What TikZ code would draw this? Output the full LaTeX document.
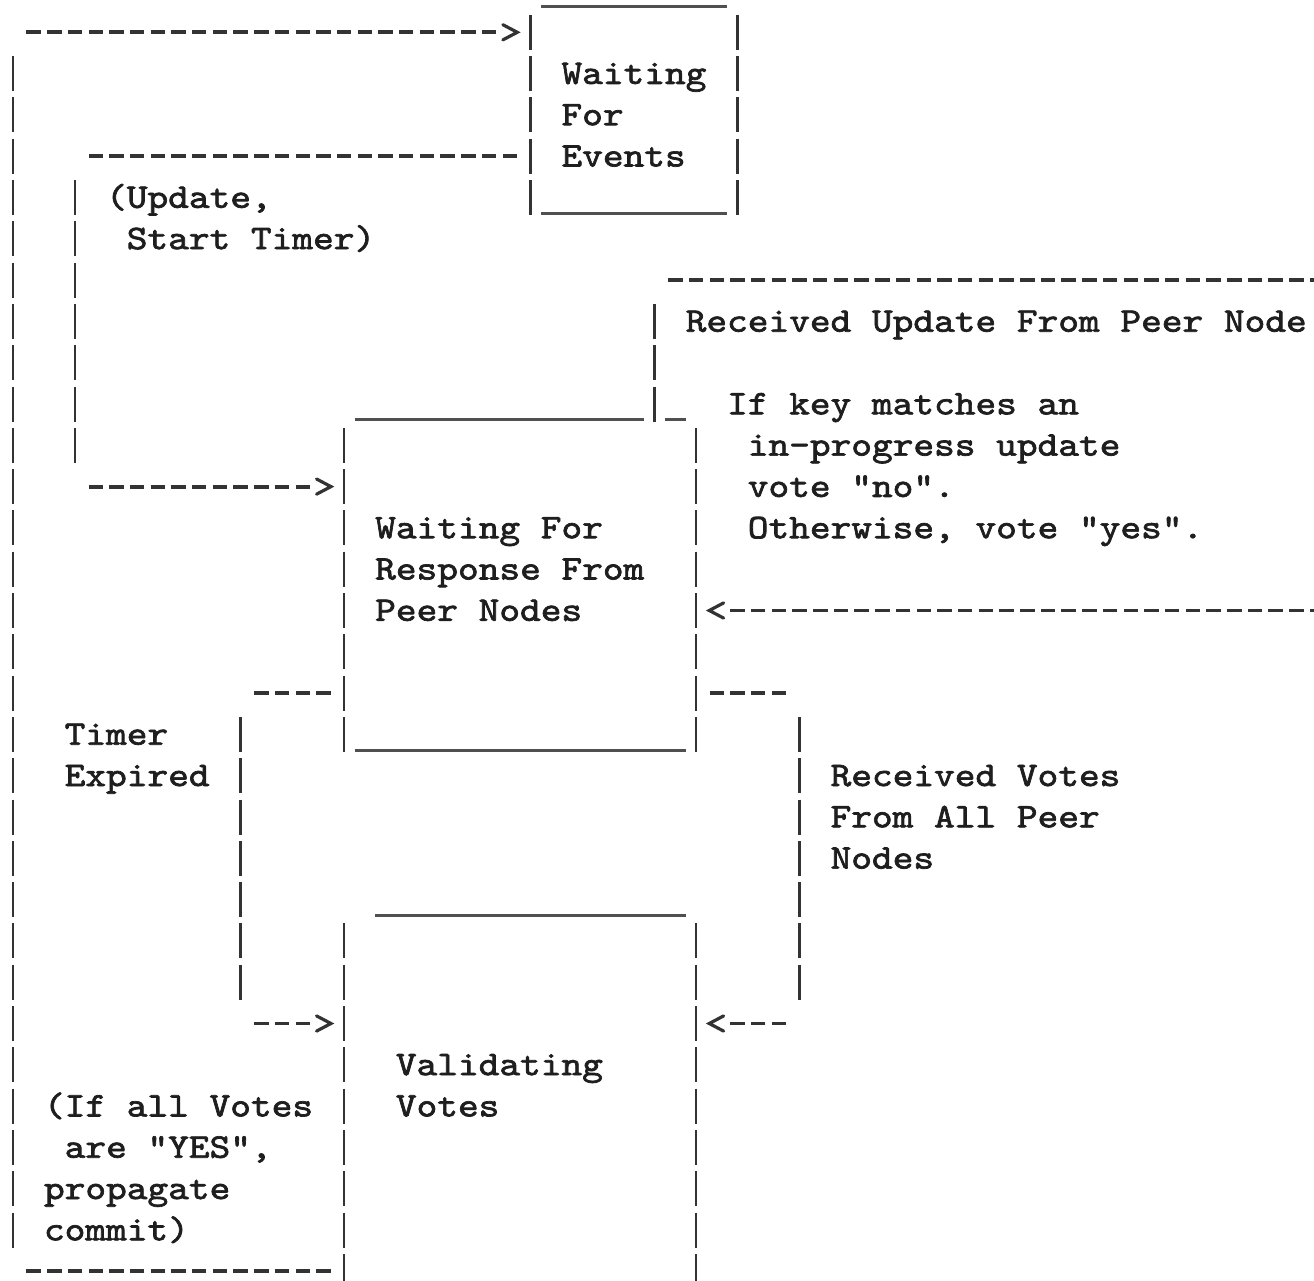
\documentclass[tikz,border=0pt]{standalone}
\usepackage{fontspec}
\setmonofont{lmmono10-regular.otf}[FakeStretch=1.143, FakeBold=2]
\usetikzlibrary{fit}
\definecolor{ink}{HTML}{1E1E1E}
\definecolor{lnk}{HTML}{333333}
\definecolor{ulk}{HTML}{505050}
\pgfdeclarearrow{
  name=asciihead,
  setup code={
    \pgfarrowssettipend{0pt}
    \pgfarrowssetlineend{-9.3pt}
    \pgfarrowssetbackend{-8.5pt}
    \pgfarrowssetvisualbackend{-8.5pt}
    \pgfarrowshullpoint{0pt}{0pt}
    \pgfarrowshullpoint{-8.5pt}{4pt}
    \pgfarrowshullpoint{-8.5pt}{-4pt}
  },
  drawing code={
    \pgfsetdash{}{0pt}
    \pgfsetlinewidth{1.6pt}
    \pgfsetroundcap
    \pgfsetmiterjoin
    \pgfpathmoveto{\pgfqpoint{-7.8pt}{3.8pt}}
    \pgfpathlineto{\pgfqpoint{-0.6pt}{0pt}}
    \pgfpathlineto{\pgfqpoint{-7.8pt}{-3.8pt}}
    \pgfusepathqstroke
  }
}
\tikzset{
  txt/.style={anchor=base west, inner sep=0pt, outer sep=0pt, text=ink,
    font=\ttfamily\fontsize{17.25pt}{20.65pt}\selectfont},
  boxarea/.style={inner sep=0pt, outer sep=0pt, draw=none},
  barln/.style={draw=lnk, line width=1.3pt, dash pattern=on 17.5pt off 3.15pt},
  dashln/.style={draw=lnk, line width=1.9pt, dash pattern=on 7.245pt off 3.105pt},
  ulln/.style={draw=ulk, line width=1.5pt},
  headto/.style={-asciihead, shorten >=6.0pt},
  fromside/.style={shorten <=6.73pt}
}
\newcommand\asclbl[4]{\node[txt] (#1) at (#2,#3+0.25) {#4};}
\begin{document}
\begin{tikzpicture}[x=10.35pt,y=-20.65pt]
\useasboundingbox (-0.1256,0.218) rectangle (63.353,31.235);
\clip (-0.1256,0.218) rectangle (63.353,31.235);

% ---------- state boxes (areas) ----------
\coordinate (e1a) at (25.5,0.387);  \coordinate (e1b) at (35.5,5.4237);
\coordinate (e2a) at (16.5,10.387); \coordinate (e2b) at (33.5,18.4237);
\coordinate (e3a) at (16.5,22.387); \coordinate (e3b) at (33.5,31.5);
\node[boxarea, fit=(e1a)(e1b)] (e1) {};
\node[boxarea, fit=(e2a)(e2b)] (e2) {};
\node[boxarea, fit=(e3a)(e3b)] (e3) {};

% box 1 outline
\draw[ulln] (26,0.387) -- (35,0.387);
\draw[barln] (25.5,0.5763) -- (25.5,5.4237);
\draw[barln] (35.5,0.5763) -- (35.5,5.4237);
\draw[ulln] (26,5.387) -- (35,5.387);
% box 2 outline
\draw[ulln] (17,10.387) -- (31,10.387);
\draw[ulln] (32,10.387) -- (33,10.387);
\draw[barln] (16.5,10.5763) -- (16.5,18.4237);
\draw[barln] (33.5,10.5763) -- (33.5,18.4237);
\draw[ulln] (17,18.387) -- (33,18.387);
% box 3 outline
\draw[ulln] (18,22.387) -- (33,22.387);
\draw[barln] (16.5,22.5763) -- (16.5,31.4237);
\draw[barln] (33.5,22.5763) -- (33.5,31.4237);

% ---------- texts ----------
\asclbl{t1a}{27}{2}{Waiting}
\asclbl{t1b}{27}{3}{For}
\asclbl{t1c}{27}{4}{Events}
\asclbl{l2a}{5}{5}{(Update,}
\asclbl{l2b}{6}{6}{Start Timer)}
\asclbl{l3a}{33}{8}{Received Update From Peer Node}
\asclbl{l3b}{35}{10}{If key matches an}
\asclbl{l3c}{36}{11}{in-progress update}
\asclbl{l3d}{36}{12}{vote "no".}
\asclbl{l3e}{36}{13}{Otherwise, vote "yes".}
\asclbl{t2a}{18}{13}{Waiting For}
\asclbl{t2b}{18}{14}{Response From}
\asclbl{t2c}{18}{15}{Peer Nodes}
\asclbl{l4a}{3}{18}{Timer}
\asclbl{l4b}{3}{19}{Expired}
\asclbl{l5a}{40}{19}{Received Votes}
\asclbl{l5b}{40}{20}{From All Peer}
\asclbl{l5c}{40}{21}{Nodes}
\asclbl{t3a}{19}{26}{Validating}
\asclbl{t3b}{19}{27}{Votes}
\asclbl{l1a}{2}{27}{(If all Votes}
\asclbl{l1b}{3}{28}{are "YES",}
\asclbl{l1c}{2}{29}{propagate}
\asclbl{l1d}{2}{30}{commit)}

% ---------- connectors ----------
% C1: Validating Votes -> Waiting For Events
\coordinate (c1a) at (1.15,31);
\draw[dashln, fromside] (e3.west |- c1a) -- (c1a);
\coordinate (c1b) at (0.5,1.5763); \coordinate (c1c) at (0.5,30.4237);
\draw[barln] (c1b) -- (c1c);
\coordinate (c1d) at (1.15,1);
\draw[dashln, headto] (c1d) -- (e1.west |- c1d);

% C2: Waiting For Events -> Waiting For Response
\coordinate (c2a) at (4.15,4);
\draw[dashln, fromside] (e1.west |- c2a) -- (c2a);
\coordinate (c2b) at (3.5,4.5763); \coordinate (c2c) at (3.5,11.4237);
\draw[barln] (c2b) -- (c2c);
\coordinate (c2d) at (4.15,12);
\draw[dashln, headto] (c2d) -- (e2.west |- c2d);

% C3: Received update from peer node (loop at the right)
\coordinate (c3a) at (31.5,7.5763); \coordinate (c3b) at (31.5,10.4237);
\draw[barln] (c3a) -- (c3b);
\coordinate (c3c) at (32.15,7); \coordinate (x1) at (66.15,7);
\draw[dashln] (c3c) -- (x1);
\coordinate (x2) at (64.85,15);
\draw[dashln, headto] (x2) -- (e2.east |- x2);

% C4: Timer Expired
\coordinate (c4a) at (12.15,17);
\draw[dashln, fromside] (e2.west |- c4a) -- (c4a);
\coordinate (c4b) at (11.5,17.5763); \coordinate (c4c) at (11.5,24.4237);
\draw[barln] (c4b) -- (c4c);
\coordinate (c4d) at (12.15,25);
\draw[dashln, headto] (c4d) -- (e3.west |- c4d);

% C5: Received votes from all peer nodes
\coordinate (c5a) at (37.85,17);
\draw[dashln, fromside] (e2.east |- c5a) -- (c5a);
\coordinate (c5b) at (38.5,17.5763); \coordinate (c5c) at (38.5,24.4237);
\draw[barln] (c5b) -- (c5c);
\coordinate (c5d) at (37.85,25);
\draw[dashln, headto] (c5d) -- (e3.east |- c5d);
\end{tikzpicture}
\end{document}
